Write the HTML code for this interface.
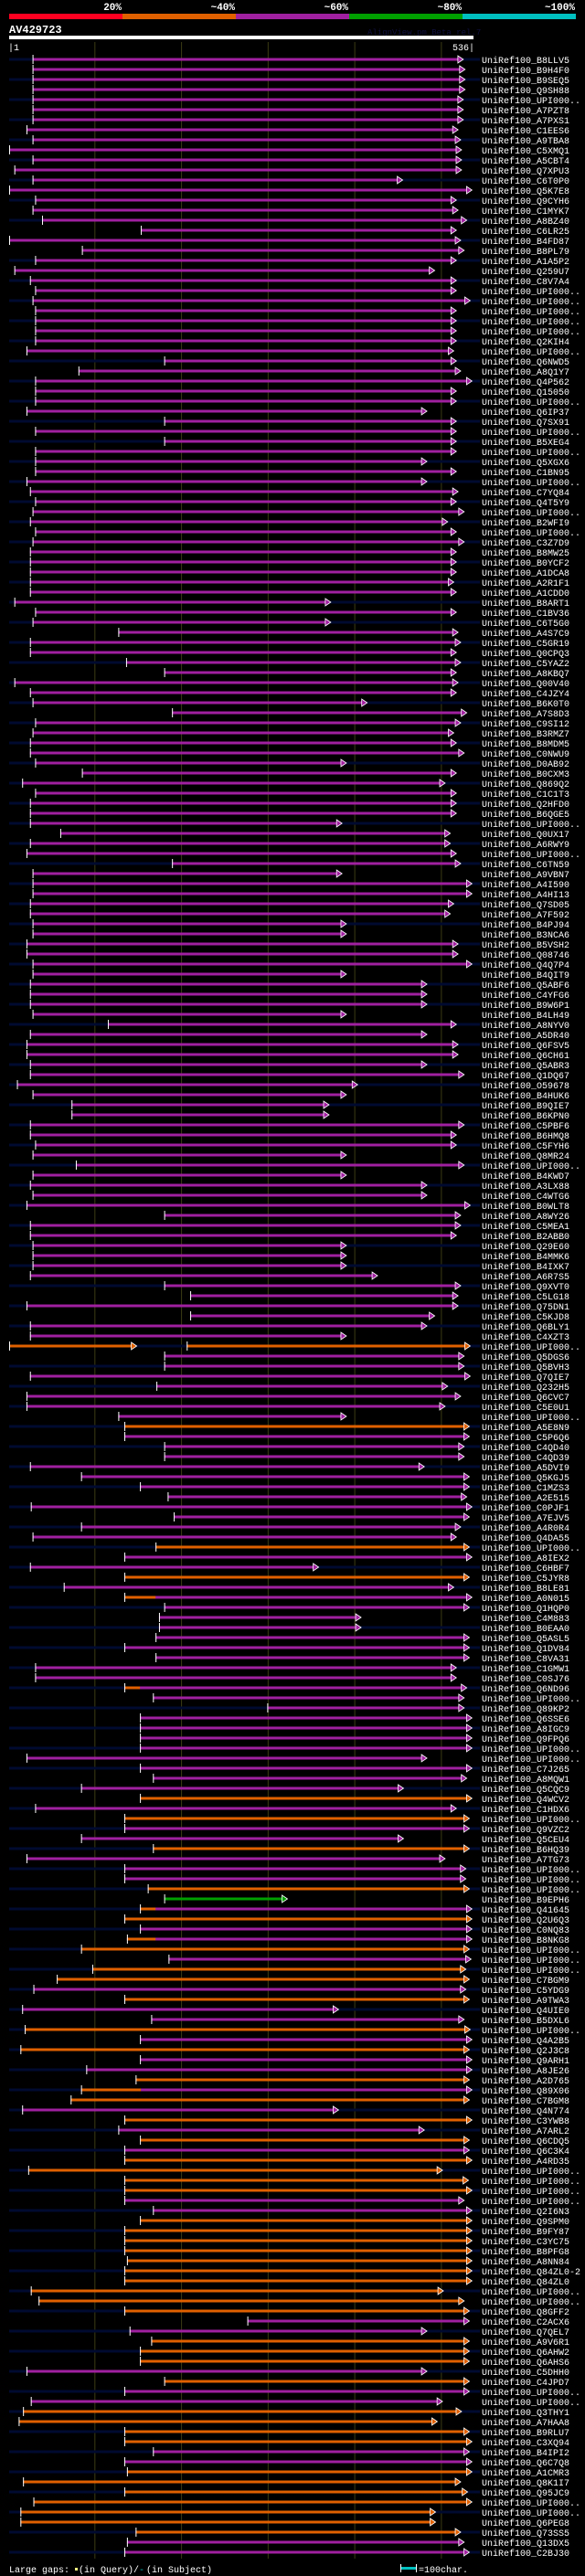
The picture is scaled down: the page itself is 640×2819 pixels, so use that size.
<!DOCTYPE html>
<html><head><meta charset="utf-8"><style>
html,body{margin:0;padding:0;background:#000;}
svg{display:block;}
text{font-family:"Liberation Mono",monospace;}
</style></head><body>
<svg id="chart" xmlns="http://www.w3.org/2000/svg" width="640" height="2819" viewBox="0 0 640 2819">
<rect x="0" y="0" width="640" height="2819" fill="#000"/>
<g>
<rect x="10" y="15" width="124" height="6" fill="#ff0020"/>
<rect x="134" y="15" width="124" height="6" fill="#e06000"/>
<rect x="258" y="15" width="124" height="6" fill="#a020a0"/>
<rect x="382" y="15" width="124" height="6" fill="#00a000"/>
<rect x="506" y="15" width="124" height="6" fill="#00c0c0"/>
<text x="133" y="11" fill="#fff" font-size="11" font-weight="bold" text-anchor="end">20%</text>
<text x="257" y="11" fill="#fff" font-size="11" font-weight="bold" text-anchor="end">~40%</text>
<text x="381" y="11" fill="#fff" font-size="11" font-weight="bold" text-anchor="end">~60%</text>
<text x="505" y="11" fill="#fff" font-size="11" font-weight="bold" text-anchor="end">~80%</text>
<text x="629" y="11" fill="#fff" font-size="11" font-weight="bold" text-anchor="end">~100%</text>
</g>
<text x="10" y="36" fill="#fff" font-size="12" font-weight="bold">AV429723</text>
<text x="402" y="38" fill="#101040" font-size="9">AlignView.pm Beta rel.7</text>
<rect x="10" y="39" width="508" height="4" fill="#fff"/>
<text x="9" y="55" fill="#fff" font-size="10">|1</text>
<text x="519" y="55" fill="#fff" font-size="10" text-anchor="end">536|</text>
<g id="grid"></g>
<g id="rows"></g>
<g>
<text x="10" y="2815" fill="#fff" font-size="10">Large gaps:</text>
<rect x="82" y="2810" width="3" height="3" fill="#ffff80"/>
<text x="86" y="2815" fill="#fff" font-size="10">(in Query)/</text>
<text x="152" y="2815" fill="#00c0c0" font-size="10">-</text>
<text x="160" y="2815" fill="#fff" font-size="10">(in Subject)</text>
<rect x="439" y="2809" width="16" height="3" fill="#00c0c0"/>
<rect x="438" y="2806" width="1" height="9" fill="#fff"/>
<rect x="455" y="2806" width="1" height="9" fill="#fff"/>
<text x="458" y="2815" fill="#fff" font-size="10">=100char.</text>
</g>
</svg>
<script>
const ids = ["B8LLV5","B9H4F0","B9SEQ5","Q9SH88","UPI","A7PZT8","A7PXS1","C1EES6","A9TBA8","C5XMQ1",
"A5CBT4","Q7XPU3","C6T0P0","Q5K7E8","Q9CYH6","C1MYK7","A8BZ40","C6LR25","B4FD87","B8PL79",
"A1A5P2","Q259U7","C8V7A4","UPI","UPI","UPI","UPI","UPI","Q2KIH4","UPI",
"Q6NWD5","A8Q1Y7","Q4P562","Q15050","UPI","Q6IP37","Q7SX91","UPI","B5XEG4","UPI",
"Q5XGX6","C1BN95","UPI","C7YQ84","Q4T5Y9","UPI","B2WFI9","UPI","C3Z7D9","B8MW25",
"B0YCF2","A1DCA8","A2R1F1","A1CDD0","B8ART1","C1BV36","C6T5G0","A4S7C9","C5GR19","Q0CPQ3",
"C5YAZ2","A8KBQ7","Q00V40","C4JZY4","B6K0T0","A7S8D3","C9SI12","B3RMZ7","B8MDM5","C0NWU9",
"D0AB92","B0CXM3","Q869Q2","C1C1T3","Q2HFD0","B6QGE5","UPI","Q0UX17","A6RWY9","UPI",
"C6TN59","A9VBN7","A4I590","A4HI13","Q7SD05","A7F592","B4PJ94","B3NCA6","B5VSH2","Q08746",
"Q4Q7P4","B4QIT9","Q5ABF6","C4YFG6","B9W6P1","B4LH49","A8NYV0","A5DR40","Q6FSV5","Q6CH61",
"Q5ABR3","Q1DQ67","O59678","B4HUK6","B9QIE7","B6KPN0","C5PBF6","B6HMQ8","C5FYH6","Q8MR24",
"UPI","B4KWD7","A3LX88","C4WTG6","B0WLT8","A8WY26","C5MEA1","B2ABB0","Q29E60","B4MMK6",
"B4IXK7","A6R7S5","Q9XVT0","C5LG18","Q75DN1","C5KJD8","Q6BLY1","C4XZT3","UPI","Q5DGS6",
"Q5BVH3","Q7QIE7","Q232H5","Q6CVC7","C5E0U1","UPI","A5E8N9","C5P6Q6","C4QD40","C4QD39",
"A5DVI9","Q5KGJ5","C1MZS3","A2E515","C0PJF1","A7EJV5","A4R0R4","Q4DA55","UPI","A8IEX2",
"C6HBF7","C5JYR8","B8LE81","A0N015","Q1HQP0","C4M883","B0EAA0","Q5ASL5","Q1DV84","C8VA31",
"C1GMW1","C0SJ76","Q6ND96","UPI","Q89KP2","Q6SSE6","A8IGC9","Q9FPQ6","UPI","UPI",
"C7J265","A8MQW1","Q5CQC9","Q4WCV2","C1HDX6","UPI","Q9VZC2","Q5CEU4","B6HQ39","A7TG73",
"UPI","UPI","UPI","B9EPH6","Q41645","Q2U6Q3","C0NQ83","B8NKG8","UPI","UPI",
"UPI","C7BGM9","C5YDG9","A9TWA3","Q4UIE0","B5DXL6","UPI","Q4A2B5","Q2J3C8","Q9ARH1",
"A8JE26","A2D765","Q89X06","C7BGM8","Q4N774","C3YWB8","A7ARL2","Q6CDQ5","Q6C3K4","A4RD35",
"UPI","UPI","UPI","UPI","Q2I6N3","Q9SPM0","B9FY87","C3YC75","B8PFG8","A8NN84",
"Q84ZL0-2","Q84ZL0","UPI","UPI","Q8GFF2","C2ACX6","Q7QEL7","A9V6R1","Q6AHW2","Q6AHS6",
"C5DHH0","C4JPD7","UPI","UPI","Q3THY1","A7HAA8","B9RLU7","C3XQ94","B4IPI2","Q6C7Q8",
"A1CMR3","Q8K1I7","Q95JC9","UPI","UPI","Q6PEG8","Q73SS5","Q13DX5","C2BJ30"];
const starts = [28,28,28,28,28,28,28,21,28,1,28,7,28,1,31,28,39,153,1,85,
31,7,25,31,28,31,31,31,31,21,180,81,31,31,31,21,180,31,180,31,
31,31,21,25,31,28,25,31,28,25,25,25,25,25,7,31,28,127,25,25,
136,180,7,25,28,189,31,28,25,25,31,85,16,31,25,25,25,60,25,21,
189,28,28,28,25,25,28,28,21,21,28,28,25,25,25,28,115,25,21,21,
25,25,10,28,73,73,25,25,31,28,78,28,25,28,21,180,25,25,28,28,
28,25,180,210,21,210,25,25,206,180,180,25,171,21,21,127,134,134,180,180,
25,84,152,184,26,191,84,28,170,134,25,134,64,134,180,174,174,170,134,170,
31,31,134,167,299,152,152,152,152,21,152,167,84,152,31,134,134,84,167,21,
134,134,161,180,152,134,152,137,84,185,97,56,29,134,16,165,19,152,14,152,
90,147,84,72,16,134,127,152,134,134,23,134,134,134,167,152,134,134,134,137,
134,134,26,35,134,276,140,165,152,152,21,180,134,26,17,12,134,134,167,134,
137,17,134,29,14,14,147,137,134];
const ends = [519,521,521,521,519,519,519,513,516,517,517,517,449,529,511,513,523,511,516,520,
511,486,511,511,527,511,511,511,511,508,511,516,529,511,511,477,511,511,511,511,
477,511,477,513,511,520,501,511,520,511,511,511,508,511,366,511,366,513,516,511,
516,511,513,511,408,523,516,508,511,520,384,511,498,511,511,511,379,504,504,511,
516,379,529,529,508,504,384,384,513,513,529,384,477,477,477,384,511,477,513,513,
477,520,397,384,364,364,520,511,511,384,520,384,477,477,527,516,516,511,384,384,
384,420,516,513,513,486,477,384,527,520,520,527,501,516,498,384,526,526,520,520,
474,526,526,523,529,526,516,511,526,529,352,526,508,529,526,401,401,526,526,526,
511,511,523,520,520,529,529,529,529,477,529,523,450,529,511,526,526,450,526,498,
522,522,526,316,529,529,529,529,526,528,522,526,522,526,375,520,527,529,526,529,
529,526,529,526,375,529,474,526,526,529,495,525,529,520,529,529,529,529,529,529,
529,529,496,520,526,526,477,526,526,526,477,526,526,495,517,489,526,529,526,529,
529,516,524,529,487,487,516,520,526];
const orangeRows = [128,136,148,151,173,175,178,182,185,188,190,191,193,196,198,201,203,205,207,209,210,211,212,215,216,217,218,219,220,221,222,223,224,227,228,229,231,234,235,236,237,240,241,242,243,244,245,246];
const greenRows = [183];
const prefixRows = [153,162,184,187,202];
const prefixEnds = [170,152,170,170,153];
const extraRows = [128];
const extraStarts = [1];
const extraEnds = [142];
const gridTicks = [100,200,300,400,500];

const NS = "http://www.w3.org/2000/svg";
const xOf = p => 10 + (p - 1) * 507 / 535;
const yOf = i => 65 + 11 * i;
const COL = {m:"#a020a0", o:"#e06000", g:"#00a000"};
function mk(tag, attrs, parent){const e=document.createElementNS(NS,tag);for(const k in attrs)e.setAttribute(k,attrs[k]);parent.appendChild(e);return e;}

const grid = document.getElementById("grid");
gridTicks.forEach(t=>{
  const l = mk("line",{x1:xOf(t),x2:xOf(t),y1:46,y2:2800,stroke:"#3c3c14","stroke-width":1},grid);
  
  
});

const rowsG = document.getElementById("rows");
function bar(x1,x2,y,color,g){
  const r = mk("rect",{x:x1,y:y-1.5,width:Math.max(1,x2-x1),height:3,fill:color},g);
  
  
}
function arrow(x,y,color,g){
  const p = mk("polygon",{points:`${x},${y-4} ${x+6},${y} ${x},${y+4}`,fill:color,stroke:"#fff","stroke-width":0.8},g);
  
  
}
ids.forEach((id,i)=>{
  const y = yOf(i);
  const g = mk("g",{},rowsG);
  
  
  if(i%2===0){
    const s = mk("rect",{x:10,y:y-1.5,width:515,height:3,fill:"#000a30"},g);
    
    
  }
  const c = greenRows.includes(i) ? COL.g : orangeRows.includes(i) ? COL.o : COL.m;
  const ei = extraRows.indexOf(i);
  if(ei>=0){
    bar(xOf(extraStarts[ei]),xOf(extraEnds[ei]),y,c,g);
    arrow(xOf(extraEnds[ei]),y,c,g);
    const t0 = mk("rect",{x:xOf(extraStarts[ei]),y:y-5,width:1,height:10,fill:"#fff"},g);
    
    
  }
  const x1 = xOf(starts[i]), x2 = xOf(ends[i]);
  bar(x1,x2,y,c,g);
  const pi = prefixRows.indexOf(i);
  if(pi>=0) bar(x1,xOf(prefixEnds[pi]),y,COL.o,g);
  const t = mk("rect",{x:x1,y:y-5,width:1,height:10,fill:"#fff"},g);
  
  
  arrow(x2,y,c,g);
  const lab = mk("text",{x:527,y:y+4,fill:"#fff","font-size":10},g);
  
  
  lab.textContent = "UniRef100_" + (id==="UPI" ? "UPI000.." : id);
});
</script>
</body></html>
